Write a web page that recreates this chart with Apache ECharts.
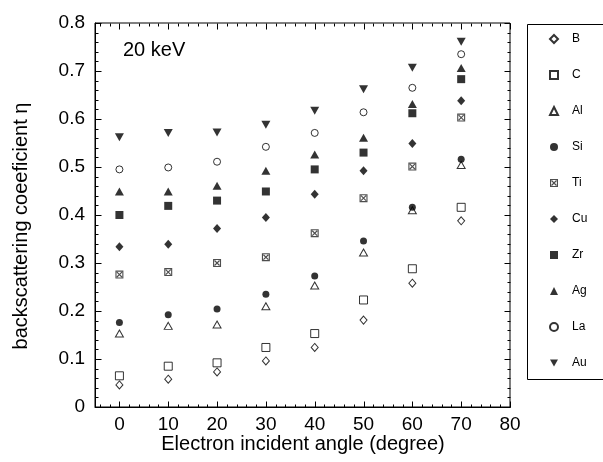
<!DOCTYPE html>
<html>
<head>
<meta charset="utf-8">
<script src="https://cdn.jsdelivr.net/npm/echarts@6/dist/echarts.min.js"></script>
<style>
  html, body { margin: 0; padding: 0; background: #fff; }
  #chart { width: 603px; height: 462px; }
</style>
</head>
<body>
<div id="chart"></div>
<script>
// Electron incident angles (degree)
const angles = [0, 10, 20, 30, 40, 50, 60, 70];

// Backscattering coefficient per element at 20 keV
const B  = [0.046, 0.058, 0.073, 0.096, 0.124, 0.181, 0.258, 0.388];
const C  = [0.065, 0.085, 0.092, 0.124, 0.153, 0.223, 0.288, 0.416];
const Al = [0.153, 0.169, 0.172, 0.210, 0.253, 0.322, 0.410, 0.504];
const Si = [0.176, 0.192, 0.204, 0.235, 0.273, 0.346, 0.416, 0.516];
const Ti = [0.276, 0.281, 0.300, 0.312, 0.362, 0.435, 0.501, 0.603];
const Cu = [0.334, 0.339, 0.372, 0.395, 0.443, 0.492, 0.549, 0.638];
const Zr = [0.400, 0.419, 0.430, 0.449, 0.495, 0.530, 0.612, 0.683];
const Ag = [0.449, 0.449, 0.461, 0.492, 0.526, 0.561, 0.631, 0.706];
const La = [0.495, 0.499, 0.511, 0.542, 0.571, 0.614, 0.665, 0.735];
const Au = [0.562, 0.571, 0.572, 0.588, 0.617, 0.662, 0.707, 0.761];

const elements = ['B', 'C', 'Al', 'Si', 'Ti', 'Cu', 'Zr', 'Ag', 'La', 'Au'];
const values = { B, C, Al, Si, Ti, Cu, Zr, Ag, La, Au };

// Axis ranges and tick positions
const xRange = [-5, 80];
const yRange = [0, 0.8];
const xMajorTicks = [0, 10, 20, 30, 40, 50, 60, 70, 80];
const yMajorTicks = [0, 0.1, 0.2, 0.3, 0.4, 0.5, 0.6, 0.7, 0.8];
const xMinorStep = 2;
const yMinorStep = 0.02;

const FONT = "'Liberation Sans', Arial, sans-serif";

// Crossed square: outer frame, inner hole, two diagonal bars
const crossSquare = 'path://M0,0L100,0L100,100L0,100Z' +
  'M14,14L14,86L86,86L86,14Z' +
  'M14,24L24,14L86,76L76,86Z' +
  'M76,14L86,24L24,86L14,76Z';

const open = { color: '#fff', borderColor: '#000', borderWidth: 1 };
const solid = { color: '#000', borderWidth: 0 };

const markers = {
  B:  { symbol: 'diamond', size: [7, 8], style: open },
  C:  { symbol: 'rect', size: 8, style: open },
  Al: { symbol: 'triangle', size: [8, 7], style: open },
  Si: { symbol: 'circle', size: 7, style: solid },
  Ti: { symbol: crossSquare, size: 8, style: { color: '#222', borderWidth: 0 } },
  Cu: { symbol: 'diamond', size: [8, 9], style: solid },
  Zr: { symbol: 'rect', size: 8, style: solid },
  Ag: { symbol: 'triangle', size: [9, 8], style: solid },
  La: { symbol: 'circle', size: 7, style: open },
  Au: { symbol: 'path://M0,0L10,0L5,9Z', size: [9, 8], style: solid }
};

const series = elements.map(name => ({
  name,
  type: 'scatter',
  symbol: markers[name].symbol,
  symbolSize: markers[name].size,
  itemStyle: markers[name].style,
  emphasis: { disabled: true },
  data: angles.map((a, i) => [a, values[name][i]]),
  z: 3
}));

const axisLineStyle = { show: true, onZero: false, lineStyle: { color: '#000', width: 1 } };

const xAxisOption = {
  type: 'value',
  min: xRange[0],
  max: xRange[1],
  splitNumber: 8,
  axisLine: axisLineStyle,
  axisTick: { show: false },
  splitLine: { show: false },
  axisLabel: {
    color: '#000',
    fontFamily: FONT,
    fontSize: 19,
    margin: 8,
    showMinLabel: false,
    formatter: v => (v < 0 ? '' : String(v))
  }
};

const yAxisOption = {
  type: 'value',
  min: yRange[0],
  max: yRange[1],
  interval: 0.1,
  axisLine: axisLineStyle,
  axisTick: { show: false },
  splitLine: { show: false },
  axisLabel: {
    color: '#000',
    fontFamily: FONT,
    fontSize: 19,
    margin: 10,
    formatter: v => (v === 0 ? '0' : v.toFixed(1))
  }
};

const textGraphics = [
  {
    type: 'rect',
    shape: { x: 527.5, y: 24.5, width: 100, height: 355 },
    style: { fill: 'none', stroke: '#000', lineWidth: 1 },
    silent: true
  },
  {
    type: 'text',
    x: 123,
    y: 40,
    style: { text: '20 keV', fill: '#000', font: '20px ' + FONT },
    silent: true
  },
  {
    type: 'text',
    x: 303,
    y: 434,
    style: {
      text: 'Electron incident angle (degree)',
      fill: '#000',
      font: '20px ' + FONT,
      align: 'center',
      verticalAlign: 'top'
    },
    silent: true
  },
  {
    type: 'text',
    x: 21,
    y: 226,
    rotation: Math.PI / 2,
    style: {
      text: 'backscattering coeeficient η',
      fill: '#000',
      font: '20px ' + FONT,
      align: 'center',
      verticalAlign: 'middle'
    },
    silent: true
  }
];

const chart = echarts.init(document.getElementById('chart'), null, { renderer: 'canvas' });

chart.setOption({
  animation: false,
  backgroundColor: '#fff',
  grid: {
    left: 95, right: 93, top: 23, bottom: 55,
    show: true, borderColor: '#000', borderWidth: 1, backgroundColor: 'transparent'
  },
  xAxis: xAxisOption,
  yAxis: yAxisOption,
  legend: {
    orient: 'vertical',
    left: 549,
    top: 32,
    padding: 0,
    itemWidth: 8,
    itemHeight: 8,
    itemGap: 22,
    selectedMode: false,
    textStyle: { color: '#000', fontFamily: FONT, fontSize: 12, lineHeight: 14, padding: [0, 0, 0, 9] },
    data: elements
  },
  graphic: textGraphics,
  series
});

// Inward ticks on all four sides of the frame, placed through the axis scales
function toPx(x, y) {
  return chart.convertToPixel({ xAxisIndex: 0, yAxisIndex: 0 }, [x, y]);
}
const crisp = v => Math.round(v) + 0.5;
const [leftPx, bottomPx] = toPx(xRange[0], yRange[0]);
const [rightPx, topPx] = toPx(xRange[1], yRange[1]);
const L = crisp(leftPx), R = crisp(rightPx), T = crisp(topPx), Bt = crisp(bottomPx);

const tickLines = [];
function tick(x1, y1, x2, y2) {
  tickLines.push({
    type: 'line',
    shape: { x1, y1, x2, y2 },
    style: { stroke: '#000', lineWidth: 1 },
    silent: true
  });
}

const MAJOR = 6, MINOR = 3;
const isMajorX = v => xMajorTicks.some(m => Math.abs(m - v) < 1e-9);
const isMajorY = v => yMajorTicks.some(m => Math.abs(m - v) < 1e-9);

for (let i = Math.ceil(xRange[0] / xMinorStep); i * xMinorStep <= xRange[1]; i++) {
  const v = i * xMinorStep;
  const len = isMajorX(v) ? MAJOR : MINOR;
  const x = crisp(toPx(v, 0)[0]);
  tick(x, Bt, x, Bt - len);
  tick(x, T, x, T + len);
}
for (let i = 0; i * yMinorStep <= yRange[1] + 1e-9; i++) {
  const v = +(i * yMinorStep).toFixed(4);
  const len = isMajorY(v) ? MAJOR : MINOR;
  const y = crisp(toPx(0, v)[1]);
  tick(L, y, L + len, y);
  tick(R, y, R - len, y);
}

chart.setOption({ graphic: textGraphics.concat(tickLines) }, { replaceMerge: ['graphic'] });
</script>
</body>
</html>
